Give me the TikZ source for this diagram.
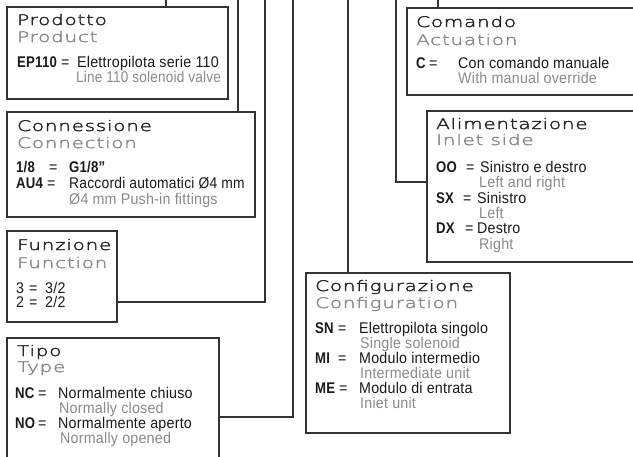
\documentclass[tikz,border=0pt]{standalone}
\usepackage{fontspec}
\setmainfont{Liberation Sans}[LetterSpace=1.5, FakeStretch=0.92, BoldFeatures={FakeStretch=0.85}]
\newfontfamily\titlefont{DejaVuSans-ExtraLight.ttf}[FakeStretch=1.38,LetterSpace=5,FakeBold=2.5]
\definecolor{txt}{HTML}{1A1A1A}
\definecolor{gry}{HTML}{8A8A8A}
\definecolor{ttlc}{HTML}{262626}
\definecolor{brd}{HTML}{333333}
\newcommand{\bodyfont}{\fontsize{15.5}{17}\selectfont}
\newcommand{\ttlfont}{\titlefont\fontsize{14.5}{17}\selectfont}
\begin{document}
\begin{tikzpicture}[x=1pt,y=-1pt,
  box/.style={draw=brd, line width=1.1pt, anchor=north west, inner sep=0pt, outer sep=0pt},
  wire/.style={draw=brd, line width=1.1pt},
  tx/.style={anchor=base west, inner sep=0pt, text=txt, font=\bodyfont},
  gx/.style={tx, text=gry},
  cd/.style={tx, font=\bodyfont\bfseries},
  ttl/.style={anchor=base west, inner sep=0pt, text=ttlc, font=\ttlfont},
  sub/.style={ttl, text=gry}]
\useasboundingbox (0,0) rectangle (633,456);
\fill[white] (0,0) rectangle (633,456);
\clip (0,0) rectangle (633,456);

% boxes
\node[box, minimum width=221pt, minimum height=92pt] (prod) at (7,7) {};
\node[box, minimum width=248pt, minimum height=105pt] (conn) at (7,112) {};
\node[box, minimum width=110pt, minimum height=91pt] (funz) at (7,231) {};
\node[box, minimum width=212pt, minimum height=140pt] (tipo) at (7,338) {};
\node[box, minimum width=204pt, minimum height=160pt] (conf) at (306,273) {};
\node[box, minimum width=240pt, minimum height=151pt] (alim) at (427,111) {};
\node[box, minimum width=250pt, minimum height=87pt] (com) at (407,8) {};

% top ends of connectors
\coordinate (t1) at (166,-1);
\coordinate (t2) at (238,-1);
\coordinate (t3) at (265,-1);
\coordinate (t4) at (293,-1);
\coordinate (t5) at (348,-1);
\coordinate (t6) at (396,-1);
\coordinate (t7) at (438,-1);

\draw[wire] (t1) -- (t1 |- prod.north);
\draw[wire] (t2) -- (t2 |- conn.north);
\draw[wire] ([yshift=20pt]funz.south east) -| (t3);
\draw[wire] ([yshift=-79pt]tipo.north east) -| (t4);
\draw[wire] (t5) -- (t5 |- conf.north);
\draw[wire] ([yshift=-71pt]alim.north west) -| (t6);
\draw[wire] (t7) -- (t7 |- com.north);

% Prodotto
\node[ttl] (prodT) at (17,25) {Prodotto};
\node[sub] (prodS) at (17,42) {Product};
\node[cd] (prodC) at (17,67) {EP110};
\node[tx] (prodE) at (61,67) {=};
\node[tx] (prodD) at (77,67) {Elettropilota serie 110};
\node[gx] (prodG) at (76,82) {\scalebox{0.95}[1]{Line 110 solenoid valve}};

% Connessione
\node[ttl] (connT) at (17,131) {Connessione};
\node[sub] (connS) at (17,148) {Connection};
\node[cd] (connC1) at (16,172) {1/8};
\node[tx] (connE1) at (49,172) {=};
\node[cd] (connD1) at (69,172) {G1/8”};
\node[cd] (connC2) at (16,188) {AU4};
\node[tx] (connE2) at (47,188) {=};
\node[tx] (connD2) at (69,188) {\scalebox{0.97}[1]{Raccordi automatici Ø4 mm}};
\node[gx] (connG2) at (69,204) {Ø4 mm Push-in fittings};

% Funzione
\node[ttl] (funzT) at (17,250) {Funzione};
\node[sub] (funzS) at (17,268) {Function};
\node[tx] (funzC1) at (16,293) {3};
\node[tx] (funzE1) at (29,293) {=};
\node[tx] (funzD1) at (45,293) {3/2};
\node[tx] (funzC2) at (16,307) {2};
\node[tx] (funzE2) at (29,307) {=};
\node[tx] (funzD2) at (45,307) {2/2};

% Tipo
\node[ttl] (tipoT) at (17,356) {Tipo};
\node[sub] (tipoS) at (17,372) {Type};
\node[cd] (tipoC1) at (15,398) {NC};
\node[tx] (tipoE1) at (38,398) {=};
\node[tx] (tipoD1) at (58,398) {Normalmente chiuso};
\node[gx] (tipoG1) at (59,413) {Normally closed};
\node[cd] (tipoC2) at (15,428) {NO};
\node[tx] (tipoE2) at (38,428) {=};
\node[tx] (tipoD2) at (58,428) {Normalmente aperto};
\node[gx] (tipoG2) at (60,443) {Normally opened};

% Comando
\node[ttl] (comT) at (416,27) {Comando};
\node[sub] (comS) at (416,45) {Actuation};
\node[cd] (comC) at (416,68) {C};
\node[tx] (comE) at (429,68) {=};
\node[tx] (comD) at (458,68) {Con comando manuale};
\node[gx] (comG) at (458,83) {With manual override};

% Alimentazione
\node[ttl] (alimT) at (436,129) {Alimentazione};
\node[sub] (alimS) at (436,145) {Inlet side};
\node[cd] (alimC1) at (436,172) {OO};
\node[tx] (alimE1) at (466,172) {=};
\node[tx] (alimD1) at (480,172) {Sinistro e destro};
\node[gx] (alimG1) at (479,187) {Left and right};
\node[cd] (alimC2) at (436,203) {SX};
\node[tx] (alimE2) at (463,203) {=};
\node[tx] (alimD2) at (477,203) {Sinistro};
\node[gx] (alimG2) at (479,218) {Left};
\node[cd] (alimC3) at (436,233) {DX};
\node[tx] (alimE3) at (465,233) {=};
\node[tx] (alimD3) at (477,233) {Destro};
\node[gx] (alimG3) at (479,249) {Right};

% Configurazione
\node[ttl] (confT) at (315,291) {Configurazione};
\node[sub] (confS) at (315,308) {Configuration};
\node[cd] (confC1) at (315,333) {SN};
\node[tx] (confE1) at (338,333) {=};
\node[tx] (confD1) at (359,333) {Elettropilota singolo};
\node[gx] (confG1) at (360,348) {Single solenoid};
\node[cd] (confC2) at (315,363) {MI};
\node[tx] (confE2) at (338,363) {=};
\node[tx] (confD2) at (359,363) {Modulo intermedio};
\node[gx] (confG2) at (360,378) {Intermediate unit};
\node[cd] (confC3) at (315,393) {ME};
\node[tx] (confE3) at (339,393) {=};
\node[tx] (confD3) at (359,393) {Modulo di entrata};
\node[gx] (confG3) at (360,408) {Iniet unit};
\end{tikzpicture}
\end{document}
